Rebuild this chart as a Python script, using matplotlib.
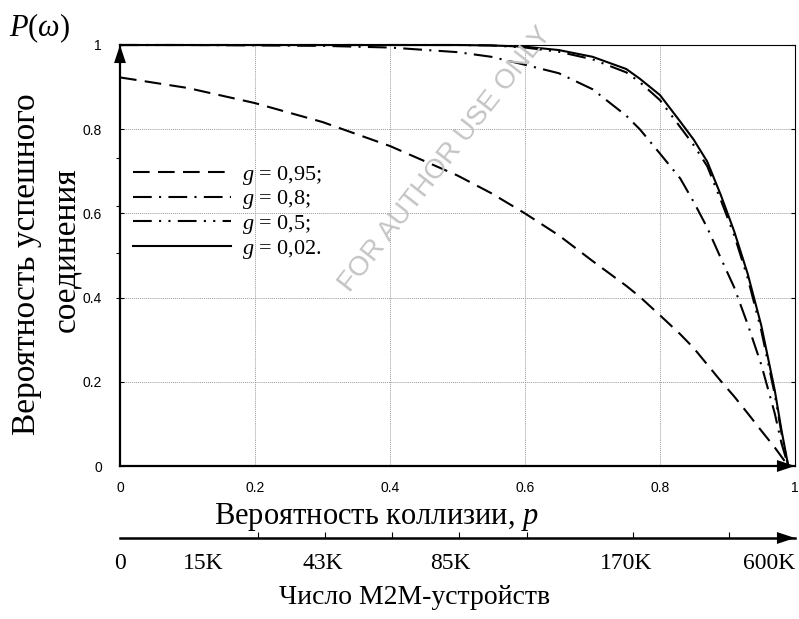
import numpy as np
import matplotlib
matplotlib.use('Agg')
from matplotlib import pyplot as plt
from matplotlib.ticker import FuncFormatter

plt.rcParams['font.family'] = ['Liberation Sans', 'DejaVu Sans']
plt.rcParams['mathtext.fontset'] = 'custom'
plt.rcParams['mathtext.rm'] = 'Liberation Serif'
plt.rcParams['mathtext.it'] = 'Liberation Serif:italic'

# collision probability grid
p = [0, 0.1, 0.2, 0.3, 0.4, 0.5, 0.55, 0.6, 0.65, 0.7, 0.75, 0.77, 0.8,
     0.83, 0.85, 0.87, 0.89, 0.91, 0.93, 0.95, 0.97, 0.98, 0.99]

# success probability for each g
p_g095 = [0.923, 0.898, 0.862, 0.817, 0.760, 0.690, 0.648, 0.600, 0.548, 0.487, 0.428, 0.402, 0.358,
          0.313, 0.280, 0.241, 0.202, 0.165, 0.125, 0.084, 0.044, 0.022, 0.0]
p_g08 = [1.0, 1.0, 0.999, 0.998, 0.994, 0.983, 0.972, 0.953, 0.933, 0.895, 0.832, 0.800, 0.742,
         0.683, 0.627, 0.566, 0.494, 0.424, 0.336, 0.241, 0.125, 0.054, 0.0]
p_g05 = [1.0, 1.0, 1.0, 1.0, 1.0, 1.0, 0.999, 0.994, 0.984, 0.966, 0.935, 0.912, 0.869,
         0.805, 0.762, 0.712, 0.632, 0.548, 0.446, 0.322, 0.170, 0.078, 0.0]
p_g002 = [1.0, 1.0, 1.0, 1.0, 1.0, 1.0, 0.999, 0.996, 0.988, 0.972, 0.943, 0.920, 0.881,
          0.818, 0.775, 0.723, 0.644, 0.557, 0.456, 0.334, 0.180, 0.085, 0.0]

g_labels = ['$g$ = 0,95;', '$g$ = 0,8;', '$g$ = 0,5;', '$g$ = 0,02.']

# number of M2M devices mapped onto p
dev_labels = ['0', '15K', '43K', '85K', '170K', '600K']
dev_label_pos = [0.0, 0.123, 0.30, 0.49, 0.75, 0.962]
dev_tick_pos = [0.123, 0.204, 0.304, 0.403, 0.502, 0.603, 0.76, 0.902]

W, H = 799, 619
fig = plt.figure(figsize=(W / 100, H / 100), dpi=100)
L, R, T, B = 120, 795, 45, 466
ax = fig.add_axes([L / W, 1 - B / H, (R - L) / W, (B - T) / H])

lw = 1.5
ax.plot(p, p_g095, color='k', lw=lw, dashes=(8, 4), label=g_labels[0], clip_on=False)
ax.plot(p, p_g08, color='k', lw=lw, dashes=(9, 3.5, 1, 3.5), label=g_labels[1], clip_on=False)
ax.plot(p, p_g05, color='k', lw=lw, dashes=(9, 3.5, 1, 3.5, 1, 3.5), label=g_labels[2], clip_on=False)
ax.plot(p, p_g002, color='k', lw=lw, label=g_labels[3], clip_on=False)

ax.set_xlim(0, 1)
ax.set_ylim(0, 1)
ticks = [0, 0.2, 0.4, 0.6, 0.8, 1.0]
ax.set_xticks(ticks)
ax.set_yticks(ticks)
fmt = FuncFormatter(lambda v, pos: '%g' % v)
ax.xaxis.set_major_formatter(fmt)
ax.yaxis.set_major_formatter(fmt)
ax.tick_params(axis='x', length=0, pad=11, labelsize=10)
ax.tick_params(axis='y', direction='in', length=3, pad=13, labelsize=10, right=True)
ax.set_yticks([0.399, 0.506, 0.618, 0.731], minor=True)
ax.tick_params(axis='y', which='minor', direction='out', length=3, width=0.8)
ax.grid(True, color='#9a9a9a', linestyle=(0, (1, 1)), lw=0.7)

for side in ['top', 'right']:
    ax.spines[side].set_linewidth(0.8)
for side in ['left', 'bottom']:
    ax.spines[side].set_linewidth(1.6)

head = dict(arrowstyle='-|>,head_length=1.0,head_width=0.33', color='k', lw=0,
            mutation_scale=13, shrinkA=0, shrinkB=0)
ax.annotate('', xy=(0, 1), xytext=(0, 0.9), xycoords='axes fraction', arrowprops=head)
ax.annotate('', xy=(1, 0), xytext=(0.9, 0), xycoords='axes fraction', arrowprops=head)

leg = ax.legend(loc='upper left', bbox_to_anchor=(0.019, 0.718), frameon=False,
                borderaxespad=0, borderpad=0, handlelength=4.4, handletextpad=0.5,
                labelspacing=0.08, prop={'family': 'Liberation Serif', 'size': 16})

serif = 'Liberation Serif'
fig.text(9 / W, 1 - 28 / H, r'$P(\omega)$', fontsize=22, ha='left', va='center')
fig.text(376 / W, 1 - 517 / H, 'Вероятность коллизии, $p$', family=serif, fontsize=22,
         ha='center', va='center')
fig.text(415 / W, 1 - 598 / H, 'Число M2M-устройств', family=serif, fontsize=20,
         ha='center', va='center')
fig.text(27 / W, 1 - 264 / H, 'Вероятность успешного', family=serif, fontsize=24,
         rotation=90, ha='center', va='center')
fig.text(66 / W, 1 - 250 / H, 'соединения', family=serif, fontsize=24,
         rotation=90, ha='center', va='center')

# device count scale under the main axis
ax2 = fig.add_axes([L / W, 1 - 538 / H, (R - L) / W, 0.01])
ax2.set_xlim(0, 1)
ax2.set_ylim(0, 1)
ax2.patch.set_visible(False)
for side in ['top', 'right', 'left']:
    ax2.spines[side].set_visible(False)
ax2.spines['bottom'].set_linewidth(1.8)
ax2.set_yticks([])
ax2.set_xticks(dev_label_pos)
ax2.set_xticklabels(dev_labels, family=serif, fontsize=17)
ax2.set_xticks(dev_tick_pos, minor=True)
ax2.tick_params(axis='x', which='major', length=0, pad=11)
ax2.tick_params(axis='x', which='minor', direction='in', length=4, width=0.8)
ax2.annotate('', xy=(1, 0), xytext=(0.9, 0), xycoords='axes fraction', arrowprops=head)

fig.text(445 / W, 1 - 160 / H, 'FOR AUTHOR USE ONLY', rotation=52, color='#c4c4c4',
         fontsize=20, ha='center', va='center', zorder=10)

fig.savefig('out.png', dpi=100)
